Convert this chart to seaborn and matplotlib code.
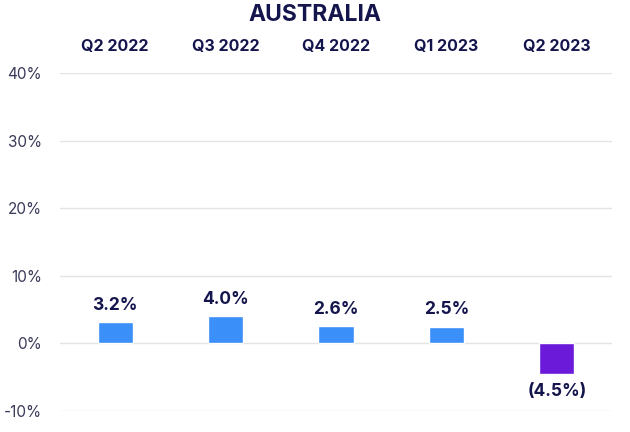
import matplotlib
matplotlib.use("Agg")
import matplotlib.pyplot as plt
import seaborn as sns
import pandas as pd
from matplotlib.ticker import FuncFormatter

quarters = ["Q2 2022", "Q3 2022", "Q4 2022", "Q1 2023", "Q2 2023"]
growth = [3.2, 4.0, 2.6, 2.5, -4.5]
labels = ["3.2%", "4.0%", "2.6%", "2.5%", "(4.5%)"]
bar_colors = ["#3a8ff8", "#3a8ff8", "#3a8ff8", "#3a8ff8", "#6a1ad8"]
yticks = [-10, 0, 10, 20, 30, 40]

sns.set_theme(style="white")
plt.rcParams['font.family'] = ['Inter', 'DejaVu Sans']

navy = "#15154d"
df = pd.DataFrame({"quarter": quarters, "growth": growth})

fig = plt.figure(figsize=(6.3, 4.32), dpi=100)
ax = fig.add_axes([60/630, 1-411/432, 552/630, 338/432])
sns.barplot(data=df, x="quarter", y="growth", hue="quarter", palette=bar_colors,
            legend=False, width=0.32, ax=ax, saturation=1)

ax.set_ylim(-10, 40)
ax.set_yticks(yticks)
ax.yaxis.set_major_formatter(FuncFormatter(lambda v, p: f"{int(v)}%"))
for y in yticks:
    ax.axhline(y, color="#e3e3e8", lw=1, zorder=0)
ax.set_axisbelow(True)
for s in ax.spines.values():
    s.set_visible(False)
ax.xaxis.tick_top()
ax.tick_params(axis="x", length=0, pad=14, labelsize=11.5, labelcolor=navy)
for t in ax.get_xticklabels():
    t.set_fontweight("bold")
ax.tick_params(axis="y", length=0, pad=13, labelsize=11, labelcolor="#3a3a5a")
ax.set_xlabel("")
ax.set_ylabel("")

for i, (v, lab) in enumerate(zip(growth, labels)):
    if v >= 0:
        ax.text(i, v + 1.2, lab, ha="center", va="bottom", fontsize=12.5,
                fontweight="bold", color=navy)
    else:
        ax.text(i, v - 1.4, lab, ha="center", va="top", fontsize=12.5,
                fontweight="bold", color=navy)

fig.text(0.5, 1 - 15/432, "AUSTRALIA", ha="center", va="center",
         fontsize=16.5, fontweight="bold", color=navy)

fig.savefig("out.png", dpi=100)
